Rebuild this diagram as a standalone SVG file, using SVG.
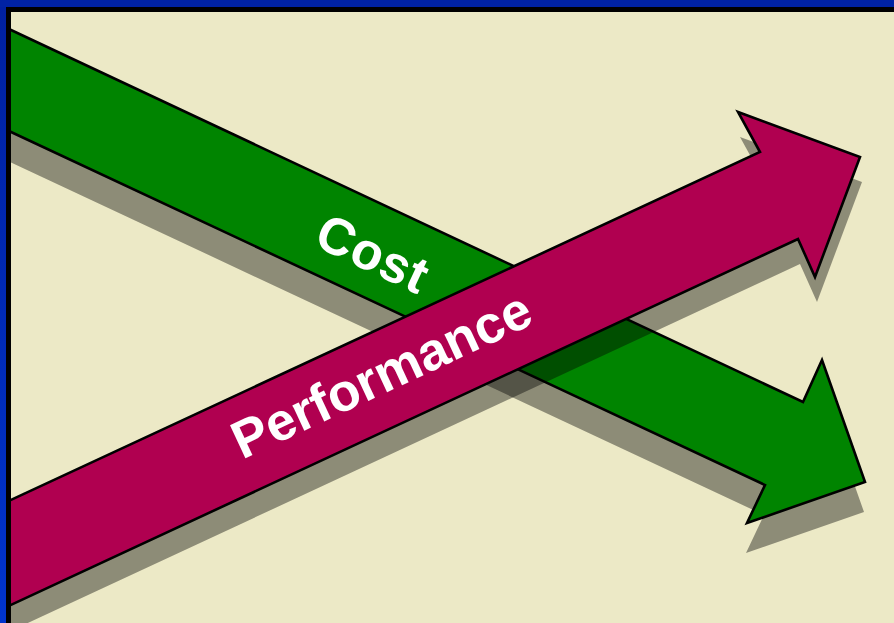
<svg xmlns="http://www.w3.org/2000/svg" xmlns:xlink="http://www.w3.org/1999/xlink" width="894" height="623" viewBox="0 0 894 623">
  <style>
    .arrow { stroke: #000; stroke-width: 2.6; stroke-linejoin: miter; }
    .shadow { fill: #000; fill-opacity: 0.4; stroke: none; }
    .label { fill: #fff; font-family: "Liberation Sans", Arial, Helvetica, sans-serif; font-weight: bold; text-anchor: middle; }
  </style>
  <defs>
    <linearGradient id="blueL" x1="0" y1="0" x2="0" y2="1">
      <stop offset="0" stop-color="#0020A0"/>
      <stop offset="1" stop-color="#0034CC"/>
    </linearGradient>
    <clipPath id="inner">
      <rect x="11" y="12" width="883" height="611"/>
    </clipPath>
    <polygon id="costShape" points="0,24.8 803,402 822,360 865,482 747,523 765,485 0,126.8"/>
    <polygon id="perfShape" points="0,505 760,152 738,112 860,157 815,277 798,239 0,610"/>
  </defs>

  <g id="frame">
    <rect x="0" y="0" width="894" height="623" fill="#0022A4"/>
    <rect x="0" y="7" width="6" height="616" fill="url(#blueL)"/>
    <rect x="6" y="7" width="888" height="616" fill="#000"/>
    <rect x="11" y="12" width="883" height="611" fill="#ECE9C6"/>
  </g>

  <g clip-path="url(#inner)">
    <g id="cost-arrow">
      <use xlink:href="#costShape" class="shadow" transform="translate(-1,30)"/>
      <use xlink:href="#costShape" class="arrow" fill="#008400"/>
      <text class="label" font-size="52" letter-spacing="0.5" transform="translate(373,253) rotate(25.1)" x="0" y="18.5">Cost</text>
    </g>
    <g id="performance-arrow">
      <use xlink:href="#perfShape" class="shadow" transform="translate(2,25)"/>
      <use xlink:href="#perfShape" class="arrow" fill="#B00050"/>
      <text class="label" font-size="53" transform="translate(381,374) rotate(-25)" x="0" y="19">Performance</text>
    </g>
  </g>
</svg>
